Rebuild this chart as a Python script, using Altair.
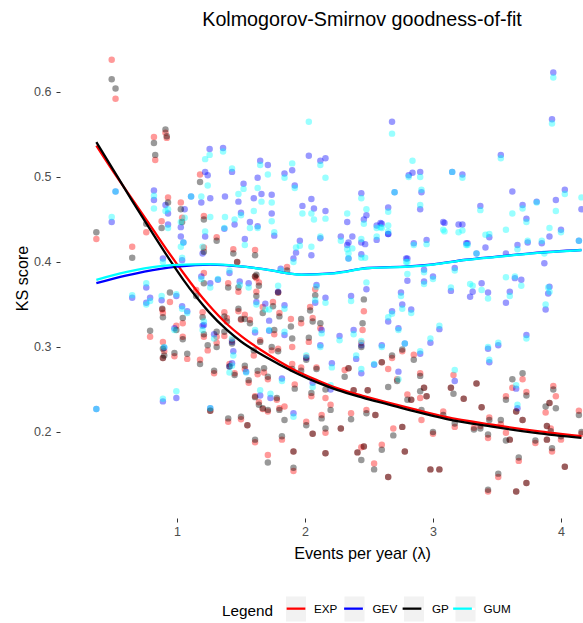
import altair as alt
import pandas as pd

# Light-tailed models (EXP, GP): one row per station, lambda and KS score
lam_a = [
    0.37, 0.49, 0.52, 0.65, 0.76, 0.82, 0.83, 0.91, 0.92, 0.93,
    0.88, 1.03, 1.04, 1.18, 1.21, 1.31, 1.21, 1.44, 0.79, 0.945,
    0.885, 0.89, 1.045, 0.995, 1.045, 0.89, 0.90, 0.89, 0.98, 1.08,
    1.18, 1.29, 1.24, 1.31, 1.20, 1.21, 1.31, 1.37, 1.37, 1.39,
    1.26, 1.40, 1.21, 1.15, 1.40, 1.62, 1.48, 1.57, 1.50, 1.43,
    1.45, 1.41, 1.47, 1.61, 1.61, 1.86, 1.48, 1.62, 1.64, 1.79,
    2.08, 2.04, 2.46, 2.45, 2.44, 1.53, 1.67, 1.76, 1.75, 1.80,
    1.89, 1.97, 2.06, 2.12, 2.03, 1.90, 1.65, 1.74, 1.79, 1.60,
    1.53, 1.56, 1.63, 1.68, 1.71, 1.90, 1.97, 2.01, 2.09, 1.92,
    1.61, 1.64, 1.67, 1.71, 1.80, 1.84, 1.78, 1.50, 1.55, 1.61,
    1.71, 1.82, 1.91, 1.91, 2.01, 2.06, 2.13, 2.16, 2.16, 2.05,
    2.16, 2.20, 2.28, 2.31, 2.34, 2.38, 2.36, 2.41, 2.44, 2.46,
    2.48, 2.49, 2.55, 2.54, 2.60, 2.65, 2.60, 2.65, 2.72, 2.69,
    2.76, 2.78, 2.80, 2.76, 2.68, 2.85, 2.90, 2.90, 2.93, 2.95,
    2.83, 2.91, 3.00, 3.08, 3.14, 3.16, 3.17, 3.24, 3.34, 3.38,
    3.32, 3.37, 3.43, 3.44, 3.53, 3.57, 3.57, 3.60, 3.62, 3.70,
    3.73, 3.65, 3.70, 3.67, 3.65, 3.73, 3.43, 3.51, 2.98, 3.05,
    3.94, 3.96, 3.91, 3.88, 3.89, 3.92, 4.00, 3.89, 3.80, 3.93,
    4.03, 4.14, 4.16,
]
exp_ks = [
    0.427, 0.638, 0.592, 0.418, 0.435, 0.547, 0.520, 0.552, 0.546, 0.476,
    0.448, 0.470, 0.452, 0.503, 0.454, 0.429, 0.417, 0.415, 0.312, 0.353,
    0.344, 0.340, 0.328, 0.325, 0.312, 0.306, 0.295, 0.287, 0.289, 0.286,
    0.285, 0.269, 0.296, 0.305, 0.341, 0.312, 0.312, 0.313, 0.341, 0.334,
    0.225, 0.212, 0.387, 0.367, 0.375, 0.381, 0.342, 0.332, 0.332, 0.308,
    0.269, 0.280, 0.400, 0.414, 0.383, 0.394, 0.365, 0.365, 0.376, 0.364,
    0.368, 0.347, 0.342, 0.320, 0.305, 0.338, 0.347, 0.315, 0.353, 0.340,
    0.333, 0.328, 0.334, 0.322, 0.306, 0.300, 0.308, 0.296, 0.298, 0.290,
    0.274, 0.258, 0.268, 0.270, 0.262, 0.280, 0.276, 0.288, 0.276, 0.256,
    0.242, 0.235, 0.227, 0.224, 0.228, 0.230, 0.238, 0.215, 0.208, 0.188,
    0.173, 0.191, 0.177, 0.154, 0.212, 0.198, 0.220, 0.199, 0.175, 0.242,
    0.240, 0.232, 0.204, 0.273, 0.275, 0.249, 0.222, 0.176, 0.182, 0.183,
    0.226, 0.249, 0.220, 0.163, 0.185, 0.147, 0.282, 0.274, 0.262, 0.204,
    0.295, 0.177, 0.244, 0.206, 0.287, 0.291, 0.269, 0.240, 0.252, 0.242,
    0.238, 0.214, 0.198, 0.224, 0.252, 0.267, 0.206, 0.239, 0.257, 0.229,
    0.205, 0.207, 0.193, 0.217, 0.209, 0.242, 0.199, 0.191, 0.252, 0.262,
    0.247, 0.224, 0.214, 0.166, 0.130, 0.140, 0.130, 0.147, 0.156, 0.156,
    0.254, 0.242, 0.234, 0.223, 0.207, 0.204, 0.191, 0.191, 0.187, 0.177,
    0.159, 0.225, 0.198,
]
gp_ks = [
    0.435, 0.615, 0.604, 0.405, 0.445, 0.540, 0.526, 0.556, 0.548, 0.470,
    0.440, 0.462, 0.447, 0.494, 0.450, 0.425, 0.412, 0.410, 0.319, 0.364,
    0.345, 0.335, 0.334, 0.320, 0.309, 0.298, 0.290, 0.287, 0.293, 0.292,
    0.280, 0.272, 0.302, 0.300, 0.335, 0.315, 0.318, 0.318, 0.336, 0.330,
    0.225, 0.216, 0.375, 0.360, 0.370, 0.385, 0.345, 0.328, 0.333, 0.304,
    0.267, 0.277, 0.400, 0.408, 0.383, 0.390, 0.370, 0.360, 0.372, 0.364,
    0.361, 0.343, 0.356, 0.328, 0.300, 0.333, 0.340, 0.320, 0.348, 0.336,
    0.324, 0.333, 0.330, 0.328, 0.311, 0.310, 0.306, 0.300, 0.295, 0.296,
    0.278, 0.261, 0.272, 0.275, 0.265, 0.274, 0.272, 0.285, 0.274, 0.251,
    0.241, 0.232, 0.228, 0.226, 0.226, 0.214, 0.240, 0.218, 0.208, 0.191,
    0.164, 0.195, 0.177, 0.158, 0.208, 0.198, 0.216, 0.204, 0.175, 0.246,
    0.250, 0.226, 0.204, 0.265, 0.275, 0.249, 0.215, 0.176, 0.167, 0.183,
    0.222, 0.249, 0.220, 0.156, 0.179, 0.147, 0.282, 0.253, 0.260, 0.196,
    0.297, 0.177, 0.238, 0.206, 0.290, 0.285, 0.266, 0.248, 0.252, 0.242,
    0.238, 0.226, 0.200, 0.220, 0.252, 0.245, 0.210, 0.239, 0.257, 0.229,
    0.203, 0.204, 0.197, 0.214, 0.214, 0.238, 0.190, 0.191, 0.262, 0.269,
    0.243, 0.224, 0.214, 0.170, 0.130, 0.140, 0.132, 0.151, 0.156, 0.156,
    0.250, 0.228, 0.234, 0.230, 0.207, 0.201, 0.195, 0.191, 0.190, 0.181,
    0.159, 0.220, 0.200,
]

# Heavy-tailed models (GEV, GUM)
lam_b = [
    0.37, 0.49, 0.52, 0.82, 0.82, 1.255, 1.22, 1.36, 1.24, 1.43,
    1.11, 1.19, 1.26, 1.375, 0.91, 0.93, 0.93, 1.06, 1.03, 1.03,
    1.05, 1.45, 1.22, 1.37, 1.20, 0.89, 1.04, 0.65, 0.76, 0.79,
    0.76, 0.88, 0.995, 1.04, 1.08, 0.98, 0.90, 1.20, 1.29, 1.44,
    1.43, 0.995, 0.89, 1.26, 1.32, 1.26, 1.19, 1.41, 1.49, 1.56,
    1.62, 1.69, 1.21, 1.43, 1.41, 2.03, 2.68, 2.12, 2.16, 1.65,
    1.71, 1.63, 1.52, 1.48, 1.50, 1.66, 1.60, 1.74, 1.74, 1.57,
    1.63, 1.84, 1.90, 1.92, 1.98, 2.05, 2.07, 2.16, 1.76, 1.96,
    1.93, 2.05, 2.12, 1.53, 1.91, 1.81, 2.44, 2.70, 2.65, 2.48,
    2.46, 2.33, 2.59, 2.56, 2.56, 2.44, 2.65, 2.28, 2.37, 2.34,
    2.34, 2.44, 2.81, 2.80, 3.94, 3.93, 3.53, 2.84, 3.15, 3.23,
    2.90, 2.91, 2.90, 4.03, 3.62, 3.96, 3.81, 3.70, 3.37, 3.73,
    4.16, 3.08, 3.23, 3.44, 3.57, 3.91, 4.00, 3.85, 3.74, 3.66,
    3.27, 2.95, 2.85, 3.34, 3.87, 4.14, 2.93, 3.17, 3.64, 2.47,
    2.33, 2.60, 2.65, 2.79, 3.09, 3.20, 3.26, 3.41, 2.80, 2.93,
    3.00, 3.14, 2.75, 3.31, 3.38, 3.43, 3.60, 3.57, 3.69, 3.90,
    3.88, 3.29, 3.05, 2.98, 2.90, 3.43, 3.51, 3.44, 3.73, 2.83,
    3.17, 3.65, 3.66, 3.91, 1.72, 1.72, 1.84, 1.79, 2.08, 2.09,
    2.16, 2.36, 2.48, 2.76, 1.84, 2.13, 2.27, 2.38, 2.44, 2.40,
    2.44, 2.54, 2.60, 2.65, 2.73, 2.68, 2.78, 2.73, 2.21, 2.06,
    1.91, 1.73, 1.82, 1.65, 1.54, 1.61, 2.01, 2.12, 2.20,
]
gev_ks = [
    0.227, 0.447, 0.483, 0.484, 0.473, 0.533, 0.506, 0.534, 0.502, 0.506,
    0.477, 0.470, 0.475, 0.477, 0.467, 0.457, 0.444, 0.462, 0.441, 0.430,
    0.423, 0.444, 0.430, 0.439, 0.410, 0.404, 0.402, 0.358, 0.370, 0.358,
    0.352, 0.355, 0.360, 0.348, 0.342, 0.322, 0.299, 0.325, 0.315, 0.295,
    0.281, 0.240, 0.236, 0.228, 0.379, 0.375, 0.383, 0.387, 0.377, 0.375,
    0.353, 0.351, 0.326, 0.306, 0.277, 0.525, 0.565, 0.519, 0.522, 0.519,
    0.514, 0.499, 0.492, 0.471, 0.458, 0.480, 0.475, 0.479, 0.457, 0.447,
    0.442, 0.504, 0.508, 0.490, 0.466, 0.474, 0.463, 0.460, 0.431, 0.425,
    0.411, 0.408, 0.428, 0.427, 0.404, 0.392, 0.481, 0.482, 0.464, 0.455,
    0.450, 0.447, 0.446, 0.443, 0.426, 0.423, 0.433, 0.430, 0.430, 0.423,
    0.404, 0.409, 0.502, 0.404, 0.623, 0.568, 0.526, 0.505, 0.506, 0.503,
    0.506, 0.482, 0.462, 0.485, 0.483, 0.473, 0.471, 0.467, 0.466, 0.451,
    0.462, 0.447, 0.444, 0.429, 0.410, 0.430, 0.438, 0.422, 0.423, 0.420,
    0.422, 0.426, 0.422, 0.410, 0.3985, 0.425, 0.391, 0.393, 0.381, 0.421,
    0.420, 0.445, 0.433, 0.404, 0.446, 0.444, 0.422, 0.417, 0.378, 0.377,
    0.383, 0.366, 0.364, 0.365, 0.375, 0.364, 0.365, 0.352, 0.379, 0.363,
    0.344, 0.359, 0.321, 0.305, 0.292, 0.298, 0.302, 0.282, 0.314, 0.344,
    0.260, 0.251, 0.228, 0.371, 0.331, 0.319, 0.349, 0.365, 0.352, 0.373,
    0.358, 0.360, 0.368, 0.350, 0.314, 0.320, 0.313, 0.320, 0.302, 0.286,
    0.269, 0.279, 0.302, 0.330, 0.322, 0.342, 0.304, 0.271, 0.281, 0.258,
    0.222, 0.240, 0.263, 0.243, 0.271, 0.317, 0.287, 0.302, 0.250,
]
gum_ks = [
    0.227, 0.453, 0.483, 0.478, 0.463, 0.526, 0.521, 0.530, 0.490, 0.510,
    0.477, 0.477, 0.453, 0.453, 0.460, 0.462, 0.440, 0.452, 0.447, 0.418,
    0.423, 0.450, 0.436, 0.440, 0.418, 0.400, 0.405, 0.361, 0.375, 0.354,
    0.350, 0.360, 0.362, 0.345, 0.340, 0.320, 0.300, 0.320, 0.310, 0.290,
    0.278, 0.248, 0.239, 0.228, 0.380, 0.370, 0.380, 0.390, 0.373, 0.370,
    0.350, 0.344, 0.330, 0.310, 0.270, 0.565, 0.551, 0.514, 0.499, 0.514,
    0.503, 0.487, 0.486, 0.480, 0.455, 0.471, 0.460, 0.470, 0.448, 0.440,
    0.440, 0.499, 0.516, 0.487, 0.457, 0.457, 0.450, 0.451, 0.435, 0.419,
    0.417, 0.418, 0.430, 0.420, 0.400, 0.390, 0.475, 0.482, 0.459, 0.462,
    0.445, 0.457, 0.441, 0.440, 0.430, 0.427, 0.443, 0.425, 0.416, 0.410,
    0.404, 0.405, 0.500, 0.400, 0.617, 0.563, 0.522, 0.519, 0.506, 0.499,
    0.500, 0.485, 0.467, 0.480, 0.457, 0.460, 0.470, 0.463, 0.461, 0.447,
    0.476, 0.438, 0.437, 0.433, 0.438, 0.440, 0.435, 0.425, 0.425, 0.415,
    0.420, 0.421, 0.420, 0.410, 0.410, 0.425, 0.388, 0.390, 0.383, 0.405,
    0.415, 0.440, 0.436, 0.400, 0.436, 0.435, 0.420, 0.432, 0.386, 0.374,
    0.380, 0.370, 0.360, 0.372, 0.367, 0.357, 0.360, 0.382, 0.372, 0.370,
    0.350, 0.374, 0.325, 0.310, 0.295, 0.300, 0.305, 0.285, 0.310, 0.340,
    0.273, 0.255, 0.232, 0.365, 0.344, 0.320, 0.345, 0.372, 0.355, 0.371,
    0.352, 0.354, 0.376, 0.345, 0.318, 0.316, 0.308, 0.315, 0.307, 0.290,
    0.274, 0.280, 0.300, 0.335, 0.320, 0.339, 0.304, 0.262, 0.276, 0.253,
    0.218, 0.245, 0.260, 0.249, 0.270, 0.320, 0.290, 0.300, 0.255,
]

# Smoothed fits
fit_lam_a = [0.37, 0.5, 0.65, 0.8, 0.95, 1.05, 1.15, 1.25, 1.39, 1.5, 1.65,
             1.8, 1.95, 2.1, 2.25, 2.45, 2.65, 2.85, 3.1, 3.45, 3.8, 4.16]
exp_fit = [0.537, 0.507, 0.474, 0.441, 0.408, 0.387, 0.367, 0.349, 0.327,
           0.313, 0.297, 0.283, 0.2705, 0.2605, 0.2515, 0.2425, 0.2345,
           0.2268, 0.2178, 0.2088, 0.2012, 0.195]
gp_fit = [0.541, 0.509, 0.472, 0.436, 0.401, 0.379, 0.359, 0.341, 0.320,
          0.3065, 0.292, 0.2795, 0.268, 0.258, 0.2495, 0.2405, 0.2325,
          0.2245, 0.2155, 0.2065, 0.199, 0.193]
fit_lam_b = [0.37, 0.6, 0.87, 1.0, 1.26, 1.52, 1.71, 1.97, 2.1, 2.23, 2.49,
             2.81, 3.0, 3.26, 3.5, 3.78, 4.16]
gev_fit = [0.375, 0.384, 0.392, 0.3945, 0.397, 0.3945, 0.3908, 0.3852,
           0.3857, 0.387, 0.3929, 0.3948, 0.3972, 0.4026, 0.4062, 0.4104,
           0.4141]
gum_fit = [0.379, 0.388, 0.395, 0.3965, 0.3975, 0.3945, 0.3906, 0.385,
           0.3855, 0.3867, 0.3926, 0.3945, 0.397, 0.4024, 0.406, 0.4102,
           0.414]

models = ["EXP", "GEV", "GP", "GUM"]
model_colors = ["#FF0000", "#0000FF", "#000000", "#00FFFF"]
key_ids = ["key_" + m for m in models]

points = pd.concat([
    pd.DataFrame({"lam": lam_a, "ks": exp_ks, "model": "EXP"}),
    pd.DataFrame({"lam": lam_b, "ks": gev_ks, "model": "GEV"}),
    pd.DataFrame({"lam": lam_a, "ks": gp_ks, "model": "GP"}),
    pd.DataFrame({"lam": lam_b, "ks": gum_ks, "model": "GUM"}),
], ignore_index=True)

fits = pd.concat([
    pd.DataFrame({"lam": fit_lam_a, "ks": exp_fit, "model": "EXP"}),
    pd.DataFrame({"lam": fit_lam_b, "ks": gev_fit, "model": "GEV"}),
    pd.DataFrame({"lam": fit_lam_a, "ks": gp_fit, "model": "GP"}),
    pd.DataFrame({"lam": fit_lam_b, "ks": gum_fit, "model": "GUM"}),
], ignore_index=True)

PLOT_W, PLOT_H = 523, 480

x_enc = alt.X(
    "lam:Q",
    scale=alt.Scale(domain=[0.086, 4.172], nice=False, zero=False),
    axis=alt.Axis(
        values=[1, 2, 3, 4], format="d", title="Events per year (λ)",
        grid=False, domain=False, tickColor="#333333", tickSize=4,
        labelColor="#4D4D4D", labelFontSize=12.5, labelPadding=3,
        titleFontSize=16.2, titleFontWeight="normal", titleColor="black",
        titleX=302, titleY=40, titleAlign="center",
        titleBaseline="alphabetic",
    ),
)
y_enc = alt.Y(
    "ks:Q",
    scale=alt.Scale(domain=[0.0988, 0.6635], nice=False, zero=False),
    axis=alt.Axis(
        values=[0.2, 0.3, 0.4, 0.5, 0.6], format=".1f", title="KS score",
        grid=False, domain=False, tickColor="#333333", tickSize=4,
        labelColor="#4D4D4D", labelFontSize=12.5, labelPadding=5,
        titleFontSize=16.2, titleFontWeight="normal", titleColor="black",
        titleX=-38, titleY=240, titleAlign="center", titleBaseline="middle",
    ),
)

# both legends share one layout (same symbol size and stroke width) so the
# line keys land exactly on the grey key boxes
legend_common = dict(
    orient="none", legendX=162, legendY=556.5, direction="horizontal",
    title="Legend", titleOrient="left", titleFontSize=15.3,
    titleFontWeight="normal", titleColor="black", titleBaseline="middle",
    titleAnchor="middle", titlePadding=8, labelFontSize=11.7,
    labelColor="black", labelOffset=4, columnPadding=1.5, symbolSize=625,
    symbolStrokeWidth=2.3, symbolOpacity=1,
)

# point colours: same pairs, listed in reverse so this scale stays separate
# from the line scale that carries the legend
scatter = alt.Chart(points).mark_circle(size=42, opacity=0.4, clip=True).encode(
    x=x_enc, y=y_enc,
    color=alt.Color("model:N",
                    scale=alt.Scale(domain=models[::-1], range=model_colors[::-1]),
                    legend=None),
)

# grey key backgrounds with a slot where each legend line sits
key_boxes = alt.Chart(fits).transform_filter("false").transform_calculate(
    key="'key_' + datum.model"
).mark_square().encode(
    x=x_enc, y=y_enc,
    fill=alt.Fill("key:N", scale=alt.Scale(domain=key_ids, range=["#F2F2F2"] * 4),
                  legend=alt.Legend(
                      symbolType="M-0.8,-1H0.8V1H-0.8Z M-0.75,-0.09V0.09H0.75V-0.09Z",
                      symbolStrokeColor="transparent",
                      labelExpr="replace(datum.label, 'key_', '')",
                      zindex=1, **legend_common)),
)

curves = alt.Chart(fits).mark_line(strokeWidth=2.3, clip=True,
                                   interpolate="monotone").encode(
    x=x_enc, y=y_enc,
    stroke=alt.Stroke("model:N", scale=alt.Scale(domain=models, range=model_colors),
                      legend=alt.Legend(symbolType="M-0.75,0H0.75",
                                        labelOpacity=0, titleOpacity=0,
                                        zindex=2, **legend_common)),
)

chart = alt.layer(scatter, key_boxes, curves).properties(
    width=PLOT_W, height=PLOT_H,
    title=alt.TitleParams(
        "Kolmogorov-Smirnov goodness-of-fit", anchor="middle", dx=40.5,
        fontSize=19.7, fontWeight="normal", color="black",
        baseline="alphabetic", offset=0, dy=8,
    ),
    padding={"left": 60, "top": 38, "right": 0, "bottom": 105},
    autosize=alt.AutoSizeParams(type="none"),
).configure(
    font="Liberation Sans",
).configure_view(
    stroke=None,
)

chart.save("out.html", embed_options={"renderer": "svg", "actions": False})
